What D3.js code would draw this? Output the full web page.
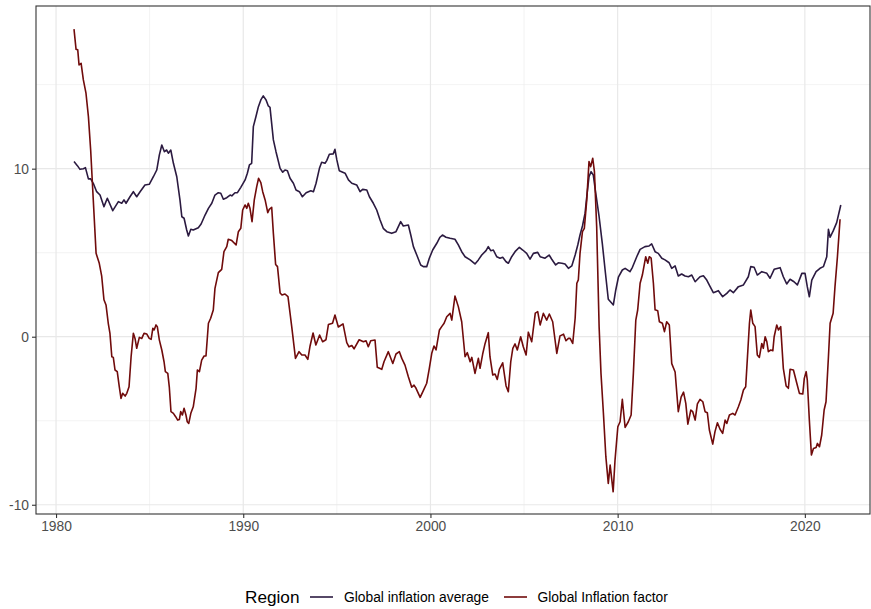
<!DOCTYPE html>
<html>
<head>
<meta charset="utf-8">
<script src="https://cdn.jsdelivr.net/npm/d3@7"></script>
<style>
  html, body { margin: 0; padding: 0; background: #fff; }
  svg { display: block; font-family: "Liberation Sans", Arial, sans-serif; }
</style>
</head>
<body>
<svg id="chart" width="871" height="609"></svg>
<script>
// ---- Data (decimal years) ----
const seriesNames = ["Global inflation average", "Global Inflation factor"];
const seriesColors = ["#2b1a40", "#700b0b"];

const avgYears = [1980.96,1981.14,1981.28,1981.46,1981.57,1981.73,1981.85,1981.99,1982.17,1982.35,1982.56,1982.74,1983.03,1983.33,1983.51,1983.63,1983.74,1983.95,1984.13,1984.31,1984.49,1984.75,1984.98,1985.20,1985.38,1985.52,1985.65,1985.79,1985.91,1986.00,1986.13,1986.27,1986.45,1986.62,1986.72,1986.84,1986.98,1987.07,1987.20,1987.33,1987.60,1987.75,1987.96,1988.14,1988.32,1988.49,1988.67,1988.80,1988.94,1989.12,1989.30,1989.39,1989.56,1989.69,1989.87,1990.10,1990.22,1990.33,1990.45,1990.54,1990.68,1990.81,1990.94,1991.07,1991.22,1991.34,1991.43,1991.61,1991.75,1991.97,1992.11,1992.23,1992.36,1992.50,1992.68,1992.82,1993.00,1993.16,1993.36,1993.61,1993.75,1993.89,1994.07,1994.19,1994.37,1994.46,1994.60,1994.81,1994.90,1995.00,1995.13,1995.44,1995.62,1995.80,1996.06,1996.24,1996.38,1996.60,1996.74,1996.95,1997.13,1997.31,1997.48,1997.67,1997.93,1998.16,1998.41,1998.55,1998.82,1998.95,1999.09,1999.27,1999.48,1999.62,1999.80,1999.94,2000.12,2000.34,2000.51,2000.64,2000.83,2001.05,2001.31,2001.49,2001.67,2001.85,2002.12,2002.38,2002.56,2002.74,2002.97,2003.09,2003.22,2003.36,2003.54,2003.72,2003.86,2004.04,2004.16,2004.34,2004.52,2004.75,2004.93,2005.14,2005.32,2005.50,2005.73,2005.86,2006.12,2006.34,2006.48,2006.69,2006.83,2007.02,2007.19,2007.37,2007.55,2007.73,2007.87,2007.99,2008.12,2008.26,2008.35,2008.47,2008.58,2008.70,2008.83,2009.01,2009.18,2009.33,2009.50,2009.69,2009.77,2009.90,2010.04,2010.25,2010.40,2010.66,2010.79,2011.02,2011.20,2011.46,2011.68,2011.82,2012.00,2012.17,2012.36,2012.53,2012.75,2012.89,2013.07,2013.24,2013.42,2013.60,2013.78,2013.96,2014.14,2014.40,2014.58,2014.76,2014.94,2015.11,2015.38,2015.61,2015.83,2016.00,2016.18,2016.45,2016.72,2016.98,2017.11,2017.29,2017.46,2017.70,2017.97,2018.14,2018.36,2018.68,2018.85,2019.03,2019.21,2019.42,2019.60,2019.84,2020.01,2020.13,2020.24,2020.37,2020.60,2020.81,2020.99,2021.17,2021.26,2021.35,2021.52,2021.70,2021.92];
const avgValues = [10.42,10.18,9.96,10.0,10.06,9.39,9.39,9.13,8.63,8.43,7.74,8.24,7.5,8.04,7.94,8.14,7.94,8.33,8.63,8.33,8.63,9.03,9.07,9.52,9.92,10.82,11.41,11.01,11.11,10.92,11.11,10.32,9.52,8.14,7.14,7.05,6.35,5.99,6.39,6.35,6.49,6.71,7.24,7.64,7.94,8.43,8.57,8.54,8.18,8.27,8.43,8.38,8.57,8.57,8.89,9.33,9.73,10.22,10.32,12.5,13.1,13.69,14.09,14.33,14.09,13.73,13.65,11.71,11.01,10.02,9.79,9.92,9.88,9.43,9.13,8.73,8.63,8.33,8.57,8.69,8.63,9.13,10.02,10.38,10.32,10.48,10.86,10.88,11.15,10.52,9.88,9.73,9.33,9.13,9.03,8.63,8.77,8.73,8.33,7.94,7.54,6.95,6.45,6.25,6.15,6.25,6.85,6.59,6.65,6.05,5.36,4.86,4.27,4.17,4.17,4.67,5.16,5.56,5.92,6.05,5.92,5.86,5.8,5.46,5.06,4.76,4.57,4.33,4.57,4.86,5.12,5.36,5.12,5.16,4.76,4.67,4.73,4.46,4.37,4.76,5.06,5.32,5.16,4.96,4.62,4.96,5.02,4.76,4.67,4.86,4.61,4.27,4.4,4.37,4.33,4.07,4.21,4.86,5.46,6.05,6.59,7.35,8.33,9.52,9.82,9.62,8.54,7.14,5.56,3.97,2.23,1.99,1.89,2.78,3.54,3.97,4.07,3.87,4.13,4.76,5.2,5.36,5.4,5.52,5.06,4.96,4.67,4.57,4.4,4.07,4.21,3.61,3.73,3.61,3.57,3.67,3.27,3.57,3.63,3.37,2.98,2.62,2.74,2.38,2.58,2.78,2.62,2.98,3.08,3.57,4.17,4.13,3.67,3.87,3.77,3.48,4.01,4.11,3.57,3.14,3.42,3.27,3.08,3.77,3.77,2.98,2.38,3.37,3.87,4.07,4.17,4.76,6.39,5.92,6.31,6.79,7.84];

const facYears = [1980.96,1981.07,1981.16,1981.23,1981.34,1981.46,1981.60,1981.73,1981.85,1981.99,1982.14,1982.31,1982.44,1982.56,1982.67,1982.79,1982.88,1982.98,1983.06,1983.15,1983.27,1983.38,1983.47,1983.56,1983.69,1983.78,1983.90,1984.01,1984.13,1984.22,1984.31,1984.45,1984.58,1984.70,1984.85,1984.98,1985.08,1985.17,1985.24,1985.34,1985.41,1985.52,1985.65,1985.77,1985.84,1985.97,1986.05,1986.14,1986.27,1986.39,1986.50,1986.59,1986.66,1986.75,1986.84,1986.94,1987.01,1987.09,1987.20,1987.33,1987.48,1987.55,1987.66,1987.78,1987.91,1988.01,1988.14,1988.26,1988.40,1988.49,1988.67,1988.85,1988.97,1989.12,1989.20,1989.39,1989.62,1989.74,1989.87,1989.97,1990.10,1990.19,1990.27,1990.36,1990.47,1990.59,1990.72,1990.82,1990.94,1991.04,1991.17,1991.31,1991.39,1991.52,1991.61,1991.73,1991.83,1991.97,1992.07,1992.23,1992.39,1992.59,1992.79,1992.98,1993.13,1993.30,1993.45,1993.57,1993.73,1993.88,1994.08,1994.24,1994.42,1994.55,1994.77,1994.90,1995.08,1995.33,1995.53,1995.65,1995.80,1995.92,1996.19,1996.42,1996.56,1996.68,1996.81,1997.04,1997.16,1997.40,1997.52,1997.75,1997.99,1998.16,1998.34,1998.47,1998.64,1998.82,1999.00,1999.12,1999.23,1999.45,1999.62,1999.80,1999.94,2000.07,2000.19,2000.30,2000.48,2000.60,2000.73,2000.87,2001.05,2001.14,2001.31,2001.49,2001.67,2001.85,2001.97,2002.12,2002.21,2002.38,2002.56,2002.65,2002.79,2002.92,2003.09,2003.18,2003.33,2003.45,2003.57,2003.68,2003.86,2004.04,2004.16,2004.29,2004.40,2004.52,2004.64,2004.82,2004.96,2005.11,2005.23,2005.41,2005.60,2005.73,2005.86,2006.03,2006.21,2006.35,2006.53,2006.75,2006.92,2007.11,2007.24,2007.37,2007.46,2007.60,2007.73,2007.82,2007.90,2007.99,2008.12,2008.22,2008.35,2008.47,2008.56,2008.67,2008.76,2008.88,2009.01,2009.11,2009.24,2009.37,2009.50,2009.60,2009.76,2009.86,2010.01,2010.13,2010.25,2010.40,2010.57,2010.72,2010.84,2010.97,2011.07,2011.20,2011.32,2011.50,2011.61,2011.69,2011.79,2011.91,2012.00,2012.14,2012.23,2012.39,2012.50,2012.62,2012.76,2012.89,2013.07,2013.24,2013.39,2013.52,2013.64,2013.75,2013.91,2014.01,2014.14,2014.26,2014.40,2014.55,2014.67,2014.79,2014.90,2015.08,2015.20,2015.33,2015.47,2015.61,2015.74,2015.83,2015.97,2016.15,2016.27,2016.45,2016.58,2016.72,2016.84,2016.93,2017.04,2017.11,2017.22,2017.34,2017.46,2017.57,2017.70,2017.78,2017.88,2017.97,2018.05,2018.18,2018.29,2018.36,2018.50,2018.59,2018.71,2018.85,2019.00,2019.12,2019.21,2019.39,2019.57,2019.71,2019.89,2019.97,2020.07,2020.13,2020.24,2020.35,2020.46,2020.60,2020.67,2020.78,2020.90,2021.03,2021.13,2021.26,2021.35,2021.51,2021.61,2021.74,2021.88];
const facValues = [18.3,17.1,17.07,16.17,16.27,15.28,14.49,13.1,11.11,8.14,4.96,4.37,3.6,2.2,1.89,0.8,0.2,-1.19,-1.23,-1.98,-2.08,-2.98,-3.67,-3.37,-3.53,-3.37,-2.98,-1.19,0.2,-0.1,-0.69,-0.04,-0.1,0.2,0.16,-0.1,-0.16,0.5,0.4,0.7,0.6,-0.2,-0.79,-1.49,-2.08,-2.18,-2.98,-4.46,-4.56,-4.76,-4.96,-4.92,-4.46,-4.66,-4.26,-4.66,-5.06,-5.16,-4.56,-4.17,-3.07,-1.98,-2.08,-1.39,-1.15,-1.15,0.8,1.1,1.59,2.88,3.81,4.01,5.06,5.36,5.8,5.72,5.46,6.25,6.45,7.54,7.84,7.64,7.94,7.64,6.85,8.14,8.93,9.43,9.17,8.63,8.14,7.38,7.58,7.7,6.15,4.3,4.17,2.6,2.48,2.54,2.38,0.6,-1.29,-0.89,-1.09,-1.09,-1.35,-0.55,0.22,-0.49,0.1,-0.3,-0.18,0.72,0.8,1.29,0.58,0.76,-0.35,-0.6,-0.52,-0.72,-0.18,-0.3,-0.24,-0.6,-0.24,-0.2,-1.82,-1.94,-1.49,-0.89,-1.59,-1.03,-0.89,-1.29,-1.69,-2.38,-3.01,-2.88,-3.07,-3.61,-3.21,-2.77,-1.88,-0.99,-0.55,-0.79,0.4,0.6,0.8,1.19,1.39,0.99,2.42,1.79,0.89,-1.19,-0.95,-1.49,-1.23,-2.18,-1.29,-1.88,-1.03,-0.4,0.24,-1.19,-2.28,-2.22,-2.54,-1.94,-1.55,-2.93,-3.27,-1.49,-0.69,-0.43,-0.79,0.0,-0.6,-1.09,0.27,-0.3,1.4,1.49,0.7,1.39,0.99,1.35,0.89,-0.99,0.05,0.15,-0.24,-0.1,-0.1,-0.4,1.1,3.18,3.38,4.96,6.25,6.45,8.14,10.42,10.12,10.62,9.82,6.55,0.6,-2.18,-4.56,-7.14,-8.73,-7.64,-9.23,-7.34,-5.36,-5.06,-3.73,-5.4,-5.06,-4.66,-2.18,0.99,1.59,3.18,3.67,4.76,4.37,4.76,4.67,3.18,1.6,1.55,0.89,0.8,0.3,0.89,0.7,-1.6,-2.1,-4.46,-3.6,-3.3,-3.97,-5.2,-4.36,-4.46,-4.96,-4.0,-3.73,-3.87,-4.46,-4.52,-5.55,-6.39,-5.65,-5.12,-5.51,-5.75,-4.96,-5.16,-4.66,-4.56,-4.66,-4.17,-3.77,-3.17,-2.98,-1.29,0.8,1.59,0.8,0.6,-1.09,-1.23,-0.4,-0.69,0.0,-0.3,-0.89,-0.79,-0.83,0.0,0.7,0.4,0.6,-1.88,-2.93,-3.07,-1.94,-1.98,-2.77,-3.37,-3.41,-2.48,-2.08,-2.58,-4.96,-7.04,-6.65,-6.59,-6.35,-6.55,-5.85,-4.36,-3.87,-1.19,0.8,1.4,2.98,4.76,6.99];

const xTicks = [1980, 1990, 2000, 2010, 2020];
const xMinorTicks = [1985, 1995, 2005, 2015];
const yTicks = [-10, 0, 10];
const yMinorTicks = [-5, 5, 15];

// ---- Layout ----
const W = 871, H = 609;
const panel = { left: 36, right: 870, top: 6, bottom: 514 };

const svg = d3.select("#chart");
svg.append("rect").attr("width", W).attr("height", H).attr("fill", "#fff");

const x = d3.scaleLinear().domain([1978.93, 2023.48]).range([panel.left, panel.right]);
const y = d3.scaleLinear().domain([-10.55, 19.68]).range([panel.bottom, panel.top]);

const g = svg.append("g");

// minor grid
g.selectAll(".xminor").data(xMinorTicks).join("line")
  .attr("x1", d => x(d)).attr("x2", d => x(d))
  .attr("y1", panel.top).attr("y2", panel.bottom)
  .attr("stroke", "#ebebeb").attr("stroke-width", 0.6);
g.selectAll(".yminor").data(yMinorTicks).join("line")
  .attr("y1", d => y(d)).attr("y2", d => y(d))
  .attr("x1", panel.left).attr("x2", panel.right)
  .attr("stroke", "#ebebeb").attr("stroke-width", 0.6);
// major grid
g.selectAll(".xmajor").data(xTicks).join("line")
  .attr("x1", d => x(d)).attr("x2", d => x(d))
  .attr("y1", panel.top).attr("y2", panel.bottom)
  .attr("stroke", "#e8e8e8").attr("stroke-width", 1.2);
g.selectAll(".ymajor").data(yTicks).join("line")
  .attr("y1", d => y(d)).attr("y2", d => y(d))
  .attr("x1", panel.left).attr("x2", panel.right)
  .attr("stroke", "#e8e8e8").attr("stroke-width", 1.2);

// lines
svg.append("clipPath").attr("id", "clip").append("rect")
  .attr("x", panel.left).attr("y", panel.top)
  .attr("width", panel.right - panel.left).attr("height", panel.bottom - panel.top);

const line = d3.line().x(d => x(d[0])).y(d => y(d[1]));
const series = [
  d3.zip(avgYears, avgValues),
  d3.zip(facYears, facValues)
];
const lg = svg.append("g").attr("clip-path", "url(#clip)");
series.forEach((s, i) => {
  lg.append("path").datum(s)
    .attr("d", line)
    .attr("fill", "none")
    .attr("stroke", seriesColors[i])
    .attr("stroke-width", 1.6)
    .attr("stroke-linejoin", "round");
});

// panel border
svg.append("rect")
  .attr("x", panel.left).attr("y", panel.top)
  .attr("width", panel.right - panel.left).attr("height", panel.bottom - panel.top)
  .attr("fill", "none").attr("stroke", "#333").attr("stroke-width", 1.1);

// axes
const fmt = d => String(d);
const xAxis = d3.axisBottom(x).tickValues(xTicks).tickFormat(fmt).tickSize(4).tickPadding(3);
const yAxis = d3.axisLeft(y).tickValues(yTicks).tickFormat(fmt).tickSize(4).tickPadding(3);

const xa = svg.append("g").attr("transform", `translate(0,${panel.bottom})`).call(xAxis);
const ya = svg.append("g").attr("transform", `translate(${panel.left},0)`).call(yAxis);
[xa, ya].forEach(a => {
  a.select(".domain").remove();
  a.selectAll(".tick line").attr("stroke", "#333").attr("stroke-width", 1.1);
  a.selectAll(".tick text").attr("fill", "#4d4d4d").style("font-size", "13.8px")
    .style("font-family", '"Liberation Sans", Arial, sans-serif');
});

// legend
const legY = 597;
const leg = svg.append("g");
leg.append("text").attr("x", 245).attr("y", legY).attr("dy", "0.35em")
  .style("font-size", "17.2px").attr("fill", "#000").text("Region");
const legItems = [
  { key: 310, label: 344 },
  { key: 504, label: 537.5 }
];
legItems.forEach((it, i) => {
  leg.append("line").attr("x1", it.key).attr("x2", it.key + 23)
    .attr("y1", legY).attr("y2", legY)
    .attr("stroke", seriesColors[i]).attr("stroke-width", 1.6);
  leg.append("text").attr("x", it.label).attr("y", legY).attr("dy", "0.35em")
    .style("font-size", "13.8px").attr("fill", "#000").text(seriesNames[i]);
});
</script>
</body>
</html>
